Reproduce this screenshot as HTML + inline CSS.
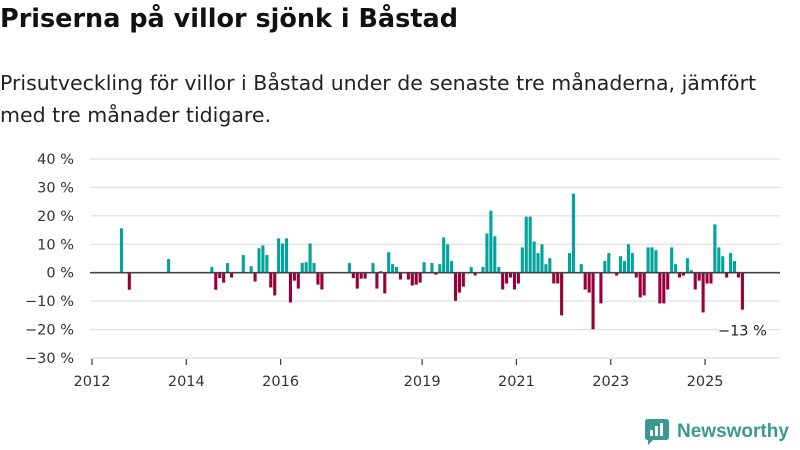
<!DOCTYPE html>
<html><head><meta charset="utf-8"><style>
body{margin:0;width:800px;height:450px;background:#fff;font-family:"DejaVu Sans","Liberation Sans",sans-serif;overflow:hidden}
#title{position:absolute;left:0;top:4px;font-size:25.5px;font-weight:bold;color:#111}
#sub{position:absolute;left:0;top:67px;font-size:20.5px;line-height:32px;color:#222;width:800px;white-space:nowrap}
svg{position:absolute;left:0;top:0}
</style></head><body>
<div id="title">Priserna på villor sjönk i Båstad</div>
<div id="sub">Prisutveckling för villor i Båstad under de senaste tre månaderna, jämfört<br>med tre månader tidigare.</div>
<svg id="chart" width="800" height="450" style="font-family:'DejaVu Sans',sans-serif"></svg>
<script>
const monthsSinceJan2012=[7,9,19,30,31,32,33,34,35,38,40,41,42,43,44,45,46,47,48,49,50,51,52,53,54,55,56,57,58,65,66,67,68,69,71,72,73,74,75,76,77,78,80,81,82,83,84,86,87,88,89,90,91,92,93,94,96,97,99,100,101,102,103,104,105,106,107,108,109,110,111,112,113,114,115,116,117,118,119,121,122,124,125,126,127,129,130,131,133,134,135,136,137,138,139,140,141,142,143,144,145,146,147,148,149,150,151,152,153,154,155,156,157,158,159,160,161,162,163,164,165];
const changePct=[15.6,-6,4.8,2,-6,-1.9,-3.5,3.4,-1.7,6.2,2.3,-3.1,8.6,9.6,6.2,-5.2,-8,12.1,10.3,12.1,-10.5,-2.8,-5.6,3.4,3.7,10.3,3.4,-4.2,-5.9,3.4,-1.9,-5.6,-2.1,-2.1,3.4,-5.6,0.6,-7.3,7.2,3,2,-2.4,-2.4,-4.5,-4.2,-3.5,3.7,3.4,-0.7,3,12.4,10,4.1,-9.9,-7,-4.9,2,-1,2,13.8,21.8,12.8,2,-5.9,-3.8,-1.7,-5.9,-3.8,8.9,19.7,19.7,11,6.9,10,3,5.1,-3.8,-3.8,-15,6.9,27.8,3,-5.9,-7,-19.9,-10.8,4.1,6.9,-1,5.8,4.1,10,6.9,-1.7,-8.7,-8,8.9,8.9,7.9,-10.8,-10.8,-5.9,8.9,3,-1.7,-1,5.1,0.9,-5.9,-2.8,-14,-3.8,-3.8,17,8.9,5.8,-1.7,6.9,4.1,-1.7,-13];
const yTicks=[40,30,20,10,0,-10,-20,-30];
const xTickYears=[2012,2014,2016,2019,2021,2023,2025];
const lastLabel="−13 %";
const NS="http://www.w3.org/2000/svg",svg=document.getElementById('chart');
const y=v=>272.7-v*2.843;
const xm=k=>92+k*3.93;
function mk(t,a){const e=document.createElementNS(NS,t);for(const k in a)e.setAttribute(k,a[k]);svg.appendChild(e);return e;}
yTicks.forEach(v=>{
 if(v!==0){const g=mk('line',{x1:90,x2:780,y1:y(v),y2:y(v),stroke:'#e0e0e0','stroke-width':1.3});
 
 }
 const t=mk('text',{x:74,y:y(v)+5,'text-anchor':'end','font-size':14.5,fill:'#333'});
 t.textContent=(v<0?'−'+(-v):v)+' %';
 
 
});
xTickYears.forEach(yr=>{
 const x=xm((yr-2012)*12);
 const l=mk('line',{x1:x,x2:x,y1:359,y2:365,stroke:'#444','stroke-width':1.3});
 
 
 const t=mk('text',{x:x,y:386,'text-anchor':'middle','font-size':14.5,fill:'#333'});
 t.textContent=yr;
 
 
});
monthsSinceJan2012.forEach((k,i)=>{
 const v=changePct[i];
 const r=mk('rect',{x:xm(k)+0.4,width:3.1,y:Math.min(y(v),y(0)),height:Math.abs(y(v)-y(0)),fill:v>=0?'#00a49a':'#99003a'});
 
 
});
const z=mk('line',{x1:90,x2:780,y1:y(0),y2:y(0),stroke:'#444','stroke-width':1.6});


const lk=monthsSinceJan2012[monthsSinceJan2012.length-1];
const bg=mk('rect',{x:xm(lk)-22,y:y(-20)-9,width:48,height:18,fill:'#fff'});


const lt=mk('text',{x:xm(lk)+2,y:y(-20)+6,'text-anchor':'middle','font-size':14.5,fill:'#222'});
lt.textContent=lastLabel;


</script>
<div style="position:absolute;left:645px;top:419px;display:flex;align-items:center">
 <svg width="24" height="26" style="position:static"><path d="M0 3 Q0 0 3 0 H21 Q24 0 24 3 V18 Q24 21 21 21 H8 L3 26 V21 H3 Q0 21 0 18Z" fill="#3a9a8f"/><rect x="5" y="11" width="3" height="6" fill="#fff"/><rect x="10" y="7" width="3" height="10" fill="#fff"/><rect x="15" y="4" width="3" height="13" fill="#fff"/></svg>
 <span style="margin-left:8px;font-size:19px;font-weight:bold;color:#3a9a8f;font-family:'Liberation Sans',sans-serif">Newsworthy</span>
</div>
</body></html>
